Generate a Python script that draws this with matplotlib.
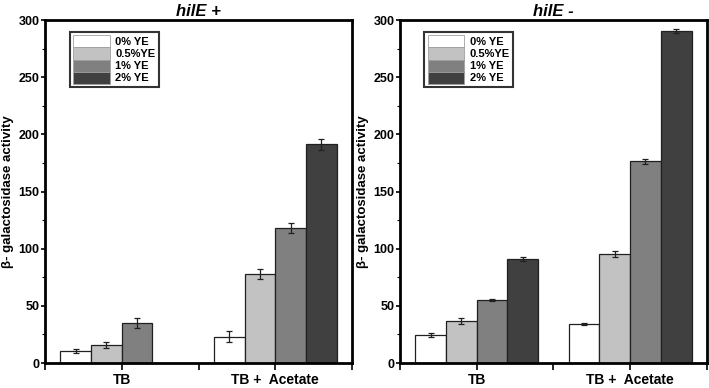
import matplotlib.pyplot as plt
import numpy as np
from matplotlib.patches import Patch

plt.rcParams['font.family'] = ['Liberation Sans', 'DejaVu Sans']
plt.rcParams['font.weight'] = 'bold'

groups = ['TB', 'TB +  Acetate']
series = ['0% YE', '0.5%YE', '1% YE', '2% YE']
colors = ['#ffffff', '#c2c2c2', '#808080', '#404040']

# hilE +  (no 2% YE bar for TB)
plus_vals = [[10.5, 23], [16, 78], [35, 118], [np.nan, 191.5]]
plus_err = [[1.8, 4.7], [2.6, 4.4], [4.6, 4.5], [0, 4.8]]
# hilE -
minus_vals = [[24.5, 34], [37, 95.5], [55, 176.5], [91, 290.5]]
minus_err = [[1.6, 1.0], [2.5, 2.8], [1.0, 2.2], [1.9, 1.9]]

fig = plt.figure(figsize=(7.09, 3.88), dpi=100)
ax1 = fig.add_axes([0.0635, 0.0644, 0.433, 0.884])
ax2 = fig.add_axes([0.564, 0.0644, 0.433, 0.884])

x = np.arange(1, len(groups) + 1)
w = 0.2

for ax, vals, errs, title in [(ax1, plus_vals, plus_err, 'hilE +'),
                              (ax2, minus_vals, minus_err, 'hilE -')]:
    for i in range(len(series)):
        pos = x + (i - 1.5) * w
        v = np.array(vals[i], dtype=float)
        e = np.array(errs[i], dtype=float)
        ok = ~np.isnan(v)
        ax.bar(pos[ok], v[ok], width=w, color=colors[i], edgecolor='#202020',
               linewidth=0.9, label=series[i])
        ax.errorbar(pos[ok], v[ok], yerr=e[ok], fmt='none', ecolor='#202020',
                    elinewidth=0.9, capsize=2.5, capthick=0.9)
    ax.set_xlim(0.5, 2.5)
    ax.set_ylim(0, 300)
    ax.set_yticks(np.arange(0, 301, 50))
    ax.set_yticks(np.arange(25, 300, 50), minor=True)
    ax.set_xticks(x)
    ax.set_xticklabels(groups, fontsize=10, fontweight='bold')
    ax.set_xticks([0.5, 1.5, 2.5], minor=True)
    ax.tick_params(axis='x', which='major', length=5, width=1.2, pad=2)
    ax.tick_params(axis='x', which='minor', length=5, width=1.2)
    ax.tick_params(axis='y', which='major', length=3, width=1.2, labelsize=9, pad=1)
    ax.tick_params(axis='y', which='minor', length=2, width=0.8)
    for t in ax.get_yticklabels():
        t.set_fontweight('bold')
        t.set_family(['Liberation Sans Narrow', 'Liberation Sans'])
    for s in ax.spines.values():
        s.set_linewidth(2)
    ax.set_ylabel('β- galactosidase activity', fontsize=9.5, fontweight='bold', labelpad=3)
    ax.set_title(title, fontsize=12, fontweight='bold', fontstyle='italic', pad=3)
    handles = [Patch(facecolor=c, edgecolor='#a0a0a0', linewidth=0.6) for c in colors]
    leg = ax.legend(handles, series, loc='upper left', bbox_to_anchor=(0.08, 0.965),
                    fontsize=8, frameon=True, fancybox=False, edgecolor='black',
                    handlelength=3.3, handleheight=1.3, handletextpad=0.5,
                    labelspacing=0.0, borderpad=0.3, borderaxespad=0)
    leg.get_frame().set_linewidth(1.5)
    for t in leg.get_texts():
        t.set_fontweight('bold')

fig.savefig('out.png', dpi=100)
